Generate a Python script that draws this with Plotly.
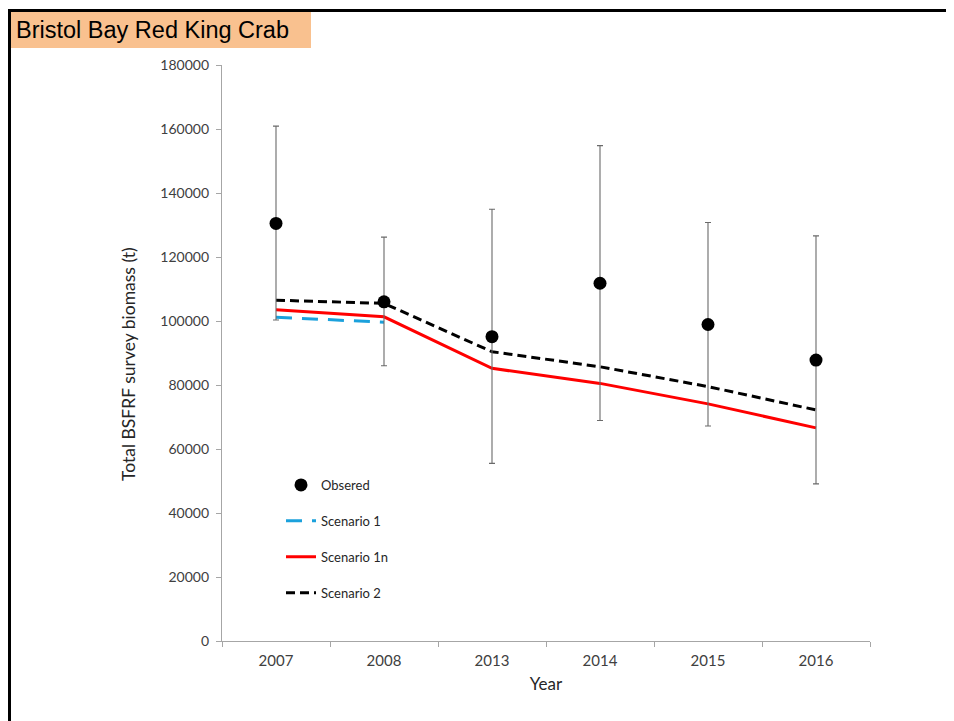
import plotly.graph_objects as go

years = ["2007", "2008", "2013", "2014", "2015", "2016"]
observed = [130500, 106000, 95100, 111800, 98900, 87800]
obs_upper = [160900, 126200, 134900, 154800, 130800, 126600]
obs_lower = [100300, 86000, 55500, 68900, 67200, 49100]
scenario1_years = ["2007", "2008"]
scenario1 = [101200, 99600]
scenario1n = [103500, 101300, 85200, 80500, 74100, 66600]
scenario2 = [106500, 105500, 90400, 85700, 79500, 72200]
y_ticks = [0, 20000, 40000, 60000, 80000, 100000, 120000, 140000, 160000, 180000]

err_plus = [u - o for u, o in zip(obs_upper, observed)]
err_minus = [o - l for o, l in zip(observed, obs_lower)]

FONT = "Lato, 'Open Sans', sans-serif"

fig = go.Figure()

fig.add_trace(go.Scatter(
    x=scenario1_years, y=scenario1, mode="lines", name="Scenario 1",
    line=dict(color="#1BA1DC", width=3, dash="16px,10px"),
    legendgroup="b", legendrank=2))
fig.add_trace(go.Scatter(
    x=years, y=scenario1n, mode="lines", name="Scenario 1n",
    line=dict(color="#FF0000", width=3),
    legendgroup="c", legendrank=3))
fig.add_trace(go.Scatter(
    x=years, y=scenario2, mode="lines", name="Scenario 2",
    line=dict(color="#000000", width=3, dash="9px,5px"),
    legendgroup="d", legendrank=4))
fig.add_trace(go.Scatter(
    x=years, y=observed, mode="markers", name="Obsered",
    marker=dict(color="#000000", size=13),
    error_y=dict(type="data", symmetric=False, array=err_plus, arrayminus=err_minus,
                 color="#6A6A6A", thickness=1.1, width=3),
    legendgroup="a", legendrank=1))

# page pixel -> paper coordinates (plot area spans page x 222..870, y 65..641)
def px(x):
    return (x - 222) / 648

def py(y):
    return (641 - y) / 576

fig.add_shape(type="rect", xref="paper", yref="paper",
              x0=px(9), x1=px(311), y0=py(48), y1=py(11),
              fillcolor="#F9C18F", line=dict(width=0), layer="below")
fig.add_shape(type="line", xref="paper", yref="paper",
              x0=px(6), x1=px(970), y0=py(10.5), y1=py(10.5),
              line=dict(color="#000000", width=3))
fig.add_shape(type="line", xref="paper", yref="paper",
              x0=px(9.5), x1=px(9.5), y0=py(9), y1=py(740),
              line=dict(color="#000000", width=3))
fig.add_annotation(text="Bristol Bay Red King Crab", xref="paper", yref="paper",
                   x=px(14), y=py(30), xanchor="left", yanchor="middle",
                   showarrow=False,
                   font=dict(family="Liberation Sans, Arial", size=23.5, color="#000000"))
fig.add_annotation(text="Total BSFRF survey biomass (t)", xref="paper", yref="paper",
                   x=px(128), y=py(364), xanchor="center", yanchor="middle",
                   textangle=-90, showarrow=False,
                   font=dict(family=FONT, size=17.5, color="#262626"))

fig.update_layout(
    width=954, height=721,
    margin=dict(l=214, r=92, t=57, b=88),
    paper_bgcolor="white", plot_bgcolor="white",
    showlegend=True,
    legend=dict(x=px(281), y=py(470), xanchor="left", yanchor="top",
                bgcolor="rgba(0,0,0,0)", tracegroupgap=16,
                font=dict(family=FONT, size=13, color="#262626")),
    xaxis=dict(type="category", categoryorder="array", categoryarray=years,
               range=[-0.5, 5.5], showgrid=False, zeroline=False,
               showline=True, linecolor="#A6A6A6", linewidth=1.2,
               ticks="outside", tickson="boundaries", ticklen=5, tickcolor="#A6A6A6",
               ticklabelstandoff=6,
               tickfont=dict(family=FONT, size=15, color="#404040"),
               title=dict(text="Year", font=dict(family=FONT, size=17, color="#262626"),
                          standoff=10)),
    yaxis=dict(range=[0, 180000], tickvals=y_ticks, tickformat="d",
               showgrid=False, zeroline=False,
               showline=True, linecolor="#A6A6A6", linewidth=1.2,
               ticks="outside", ticklen=5, tickcolor="#A6A6A6",
               ticklabelstandoff=4,
               tickfont=dict(family=FONT, size=14, color="#404040")),
)

fig.write_html("out.html")
